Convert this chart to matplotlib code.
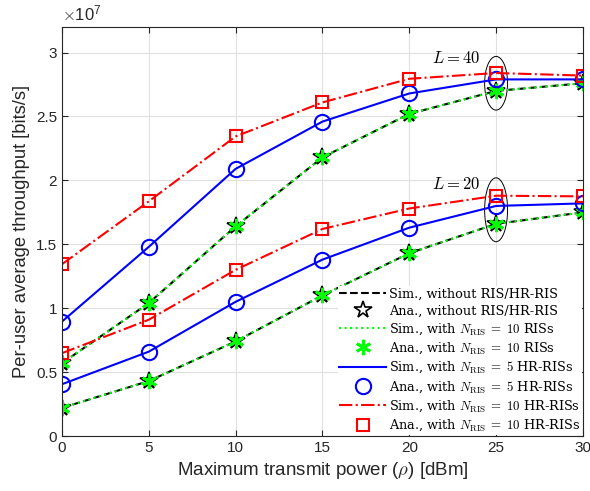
import matplotlib
matplotlib.use('agg')
import matplotlib.pyplot as plt
from matplotlib.patches import Ellipse
from matplotlib.ticker import FuncFormatter
import numpy as np

plt.rcParams['font.family'] = ['Liberation Sans', 'DejaVu Sans']
plt.rcParams['mathtext.fontset'] = 'cm'

# transmit power [dBm]
power = [0, 5, 10, 15, 20, 25, 30]

# throughput values (bits/s), two curves per scheme: L = 20 and L = 40
noris_L20 = [0.22e7, 0.43e7, 0.74e7, 1.10e7, 1.43e7, 1.66e7, 1.75e7]
noris_L40 = [0.57e7, 1.04e7, 1.64e7, 2.18e7, 2.52e7, 2.70e7, 2.76e7]
ris10_L20 = [0.22e7, 0.43e7, 0.74e7, 1.10e7, 1.43e7, 1.66e7, 1.75e7]
ris10_L40 = [0.57e7, 1.04e7, 1.64e7, 2.18e7, 2.52e7, 2.70e7, 2.76e7]
hr5_L20 = [0.405e7, 0.66e7, 1.05e7, 1.38e7, 1.63e7, 1.80e7, 1.82e7]
hr5_L40 = [0.895e7, 1.48e7, 2.09e7, 2.46e7, 2.68e7, 2.79e7, 2.79e7]
hr10_L20 = [0.648e7, 0.91e7, 1.30e7, 1.62e7, 1.78e7, 1.88e7, 1.875e7]
hr10_L40 = [1.344e7, 1.836e7, 2.344e7, 2.61e7, 2.795e7, 2.84e7, 2.82e7]

labels = [r'Sim., without RIS/HR-RIS',
          r'Ana., without RIS/HR-RIS',
          r'Sim., with $N_{\rm RIS}\;=\;10$ RISs',
          r'Ana., with $N_{\rm RIS}\;=\;10$ RISs',
          r'Sim., with $N_{\rm RIS}\;=\;5$ HR-RISs',
          r'Ana., with $N_{\rm RIS}\;=\;5$ HR-RISs',
          r'Sim., with $N_{\rm RIS}\;=\;10$ HR-RISs',
          r'Ana., with $N_{\rm RIS}\;=\;10$ HR-RISs']

fig = plt.figure(figsize=(5.9, 4.91), dpi=100)
ax = fig.add_axes([0.105, 0.112, 0.883, 0.833])

asterisk = (6, 2, 0)

l1, = ax.plot(power, noris_L20, 'k--', lw=1.5)
ax.plot(power, noris_L40, 'k--', lw=1.5)
l2, = ax.plot(power, noris_L20, ls='none', marker='*', ms=13, mfc='none', mec='k', mew=1.2)
ax.plot(power, noris_L40, ls='none', marker='*', ms=13, mfc='none', mec='k', mew=1.2)
l3, = ax.plot(power, ris10_L20, ls=':', color='#00ff00', lw=1.5)
ax.plot(power, ris10_L40, ls=':', color='#00ff00', lw=1.5)
l4, = ax.plot(power, ris10_L20, ls='none', marker=asterisk, ms=11, color='#00ff00', mew=2)
ax.plot(power, ris10_L40, ls='none', marker=asterisk, ms=11, color='#00ff00', mew=2)
l5, = ax.plot(power, hr5_L20, '-', color='#0000ff', lw=1.5)
ax.plot(power, hr5_L40, '-', color='#0000ff', lw=1.5)
l6, = ax.plot(power, hr5_L20, ls='none', marker='o', ms=11, mfc='none', mec='#0000ff', mew=1.5)
ax.plot(power, hr5_L40, ls='none', marker='o', ms=11, mfc='none', mec='#0000ff', mew=1.5)
l7, = ax.plot(power, hr10_L20, '-.', color='#ff0000', lw=1.5)
ax.plot(power, hr10_L40, '-.', color='#ff0000', lw=1.5)
l8, = ax.plot(power, hr10_L20, ls='none', marker='s', ms=9, mfc='none', mec='#ff0000', mew=1.5)
ax.plot(power, hr10_L40, ls='none', marker='s', ms=9, mfc='none', mec='#ff0000', mew=1.5)

# ellipses marking the L groups
ax.add_patch(Ellipse((25, 2.76e7), 1.32, 0.42e7, fill=False, ec='k', lw=0.7))
ax.add_patch(Ellipse((25, 1.77e7), 1.32, 0.50e7, fill=False, ec='k', lw=0.7))
ax.text(22.7, 2.96e7, r'$L=40$', fontsize=12, ha='center', va='center')
ax.text(22.7, 1.97e7, r'$L=20$', fontsize=12, ha='center', va='center')

ax.set_xlim(0, 30)
ax.set_ylim(0, 3.2e7)
ax.set_xticks([0, 5, 10, 15, 20, 25, 30])
ax.set_yticks([0, 0.5e7, 1e7, 1.5e7, 2e7, 2.5e7, 3e7])
ax.yaxis.set_major_formatter(FuncFormatter(lambda v, p: '%g' % (v / 1e7)))
ax.text(0, 1.008, r'$\times\mathregular{10^{7}}$', transform=ax.transAxes,
        fontsize=12, ha='left', va='bottom', color='#262626')
ax.grid(True, color='#e0e0e0', lw=0.8)
ax.set_axisbelow(True)
ax.tick_params(direction='in', top=True, right=True, labelsize=11, length=4,
               colors='#262626')
for s in ax.spines.values():
    s.set_color('#262626')
    s.set_linewidth(0.8)
ax.set_xlabel(r'Maximum transmit power ($\rho$) [dBm]', fontsize=13.5, color='#262626')
ax.set_ylabel('Per-user average throughput [bits/s]', fontsize=13.2, color='#262626')

leg = ax.legend([l1, l2, l3, l4, l5, l6, l7, l8], labels, loc='lower right',
                prop={'family': 'DejaVu Serif', 'size': 9.3}, frameon=True,
                framealpha=1, edgecolor='none', fancybox=False,
                labelspacing=0.3, handlelength=3.6, handletextpad=0.25,
                borderaxespad=0.1, borderpad=0.1)

fig.savefig('out.png', dpi=100)
